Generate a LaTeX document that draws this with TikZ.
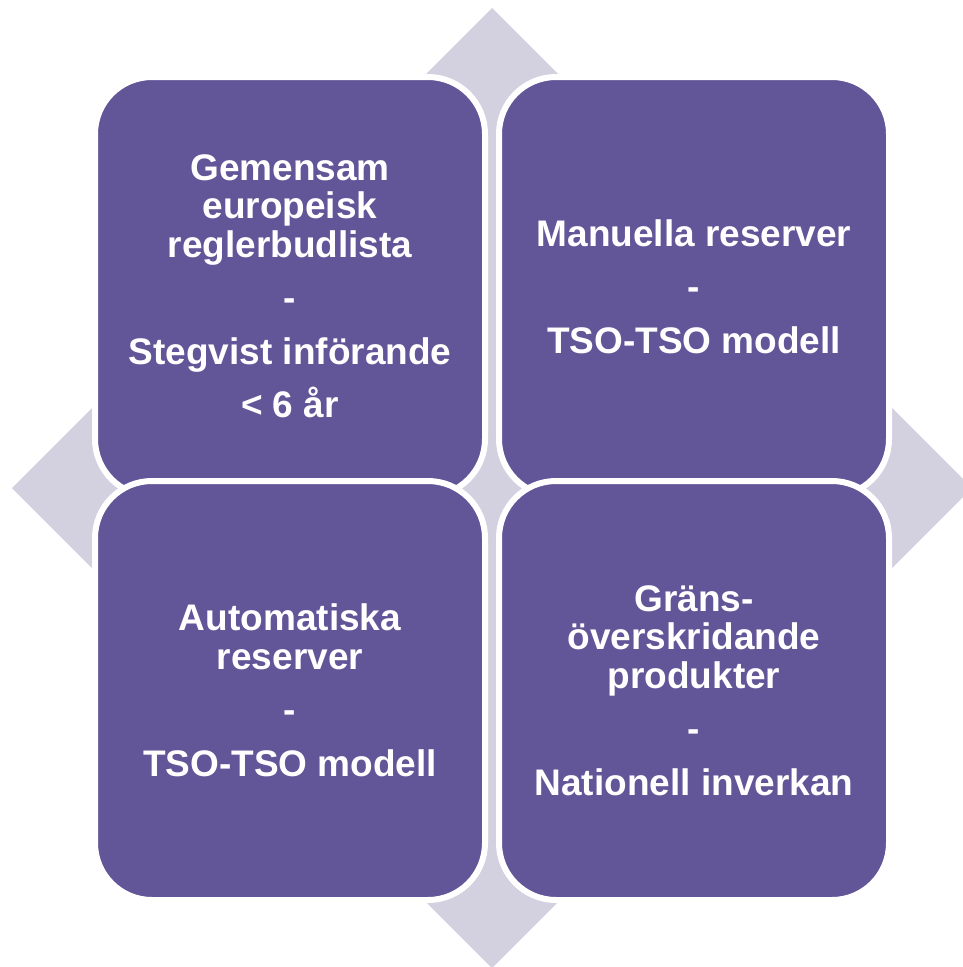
\documentclass[tikz,border=0pt]{standalone}
\usepackage{fontspec}
\setsansfont{Liberation Sans}
\definecolor{quadpurple}{RGB}{98,85,152}
\definecolor{backlilac}{RGB}{211,209,224}

\begin{document}
\begin{tikzpicture}[x=1pt,y=-1pt,
                    quad node/.style={rectangle,rounded corners=57pt,fill=quadpurple,draw=white,line width=6pt,
                                      minimum width=390pt,minimum height=419pt,inner sep=0pt,align=center,
                                      text=white,font=\sffamily\bfseries\fontsize{37}{38.5}\selectfont}]

          \useasboundingbox (0,0) rectangle (962,967);

          % Background diamond
          \fill[backlilac] (492,8) -- (972,488) -- (492,968) -- (12,488) -- cycle;

          % Quadrants
          \node[quad node] (tl) at (290,286.5) {Gemensam\\europeisk\\reglerbudlista\\[15pt]-\\[15pt]Stegvist införande\\[15pt]< 6 år};
          \node[quad node] (tr) at (694,286.5) {Manuella reserver\\[15pt]-\\[15pt]TSO-TSO modell};
          \node[quad node] (bl) at (290,690.5) {Automatiska\\reserver\\[15pt]-\\[15pt]TSO-TSO modell};
          \node[quad node] (br) at (694,690.5) {Gräns-\\överskridande\\produkter\\[15pt]-\\[15pt]Nationell inverkan};
        \end{tikzpicture}
\end{document}
